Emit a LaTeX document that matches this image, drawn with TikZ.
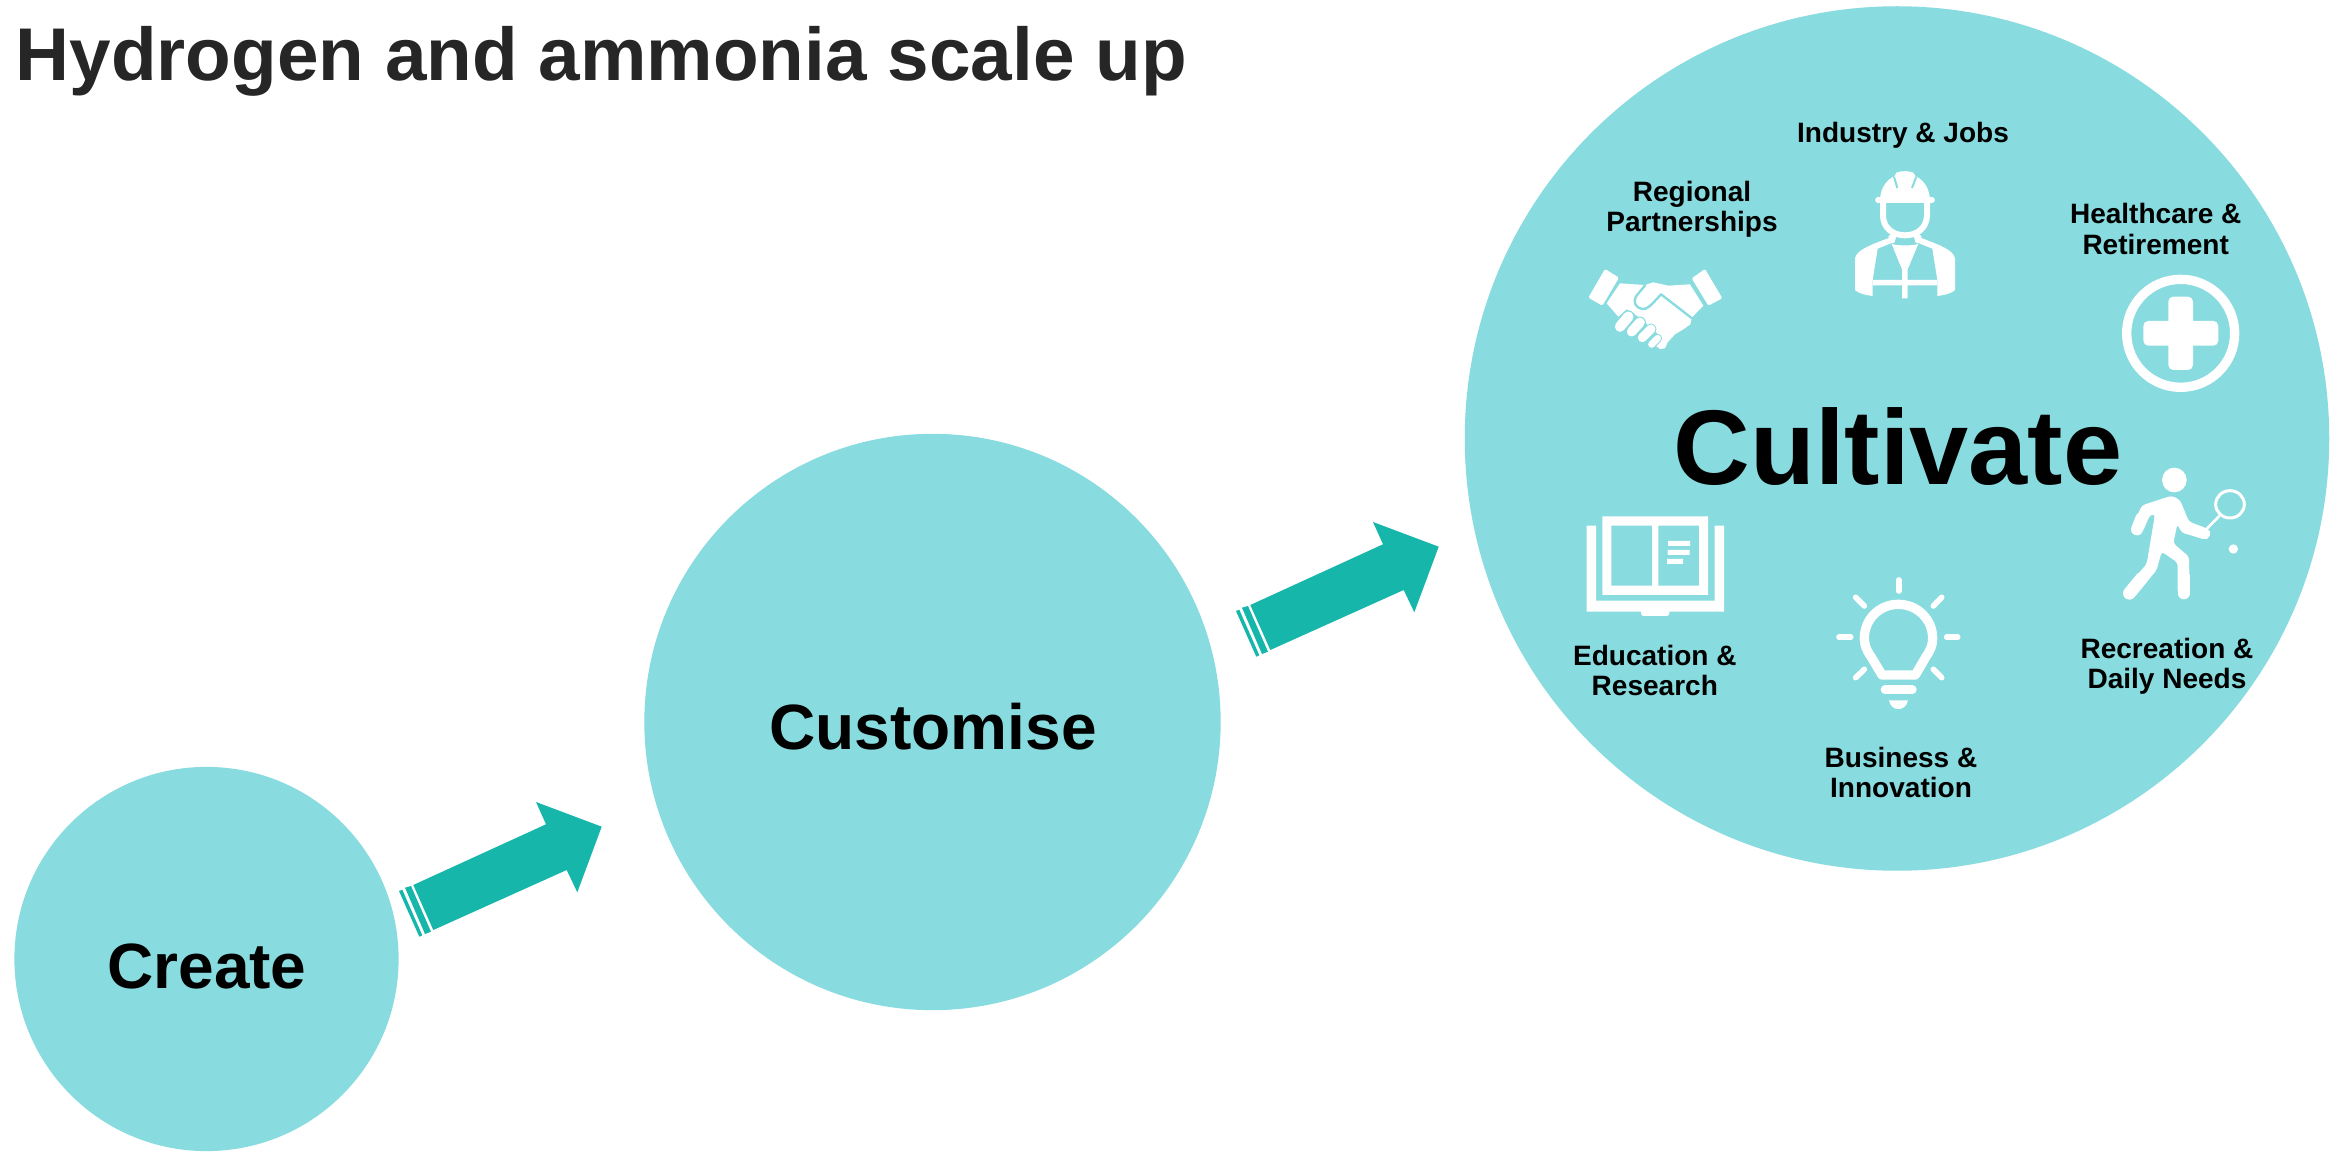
\documentclass[tikz,border=0pt]{standalone}
\usepackage{fontspec}
\setmainfont{Liberation Sans}
\definecolor{blob}{HTML}{88DBDF}
\definecolor{arrowteal}{HTML}{17B6AA}
\definecolor{titleink}{HTML}{262626}
\tikzset{
  x=0.01cm,y=-0.01cm,
  blobnode/.style={circle,fill=blob,inner sep=0pt,outer sep=0pt},
  txt/.style={inner sep=0pt,outer sep=0pt,text=black,font=\bfseries\fontsize{7.97}{8.54}\selectfont,align=center},
  stagetxt/.style={inner sep=0pt,outer sep=0pt,text=black,anchor=base,font=\bfseries\fontsize{18.2}{20}\selectfont},
  ink/.style={fill=white,draw=none},
  wl/.style={draw=white,line width=#1*0.0948pt,line cap=round,line join=round},
  wb/.style={draw=white,line width=#1*0.0948pt,line cap=butt,line join=round},
  tl/.style={draw=blob,line width=#1*0.0948pt,line cap=butt,line join=round},
  tr/.style={draw=blob,line width=#1*0.0948pt,line cap=round,line join=round},
  blockarrow/.pic={
    \fill[arrowteal] (413.3,885) -- (546,824.3) -- (536,802) -- (601.7,826.7) -- (577.3,892.3) -- (566.7,870) -- (433.3,930) -- cycle;
    \fill[arrowteal] (405,887.7) -- (411,886) -- (431,931.7) -- (425,934) -- cycle;
    \fill[arrowteal] (399,891) -- (402.3,889.7) -- (422.3,935.3) -- (419.3,936.7) -- cycle;
  }
}
\begin{document}
\begin{tikzpicture}
\path[use as bounding box,fill=white] (0,0) rectangle (2338,1152);
% circles
\node[blobnode,minimum size=3.84cm] (create) at (206.5,959) {};
\node[blobnode,minimum size=5.76cm] (customise) at (932.5,722) {};
\node[blobnode,minimum size=8.64cm] (cultivate) at (1897,438.5) {};
% title
\node[inner sep=0pt,anchor=base west,text=titleink,font=\bfseries\fontsize{21.25}{24}\selectfont] (title) at (15,80.5) {Hydrogen and ammonia scale up};
% stage labels
\node[stagetxt] (createlabel) at (207,988.5) {Create};
\node[stagetxt] (customiselabel) at (933,750) {Customise};
\node[stagetxt,font=\bfseries\fontsize{30.2}{34}\selectfont] (cultivatelabel) at (1898,484.5) {Cultivate};
% arrows
\pic (arrowone) at (0,0) {blockarrow};
\pic (arrowtwo) at (837,-280) {blockarrow};
% item labels
\node[txt] (industry) at (1903,135) {Industry \& Jobs};
\node[txt] (regional) at (1692,209) {Regional\\Partnerships};
\node[txt] (health) at (2155.7,229) {Healthcare \&\\Retirement};
\node[txt] (education) at (1654.8,670) {Education \&\\Research};
\node[txt] (recreation) at (2167,666) {Recreation \&\\Daily Needs};
\node[txt] (business) at (1901,772.5) {Business \&\\Innovation};
% worker
\begin{scope}[shift={(1540,130)},scale=1/3]
  \fill[ink] (1020,205) .. controls (1024,170) and (1040,150) .. (1064,138) -- (1069,128) .. controls (1085,122) and (1105,122) .. (1120,128) -- (1126,138) .. controls (1150,150) and (1166,170) .. (1170,205) -- cycle;
  \draw[tl=6] (1062,140) -- (1072,174);
  \draw[tl=6] (1129,140) -- (1116,174);
  \draw[wl=17] (1014,210.5) -- (1176,210.5);
  \draw[wb=18] (1029,215) -- (1029,255) .. controls (1029,295) and (1060,316) .. (1095,316) .. controls (1130,316) and (1161,295) .. (1161,255) -- (1161,215);
  \fill[ink] (1045,320) -- (1058,306) -- (1068,322) -- (1064,337) -- (1056,340) -- cycle;
  \fill[ink] (1145,320) -- (1132,306) -- (1122,322) -- (1126,337) -- (1134,340) -- cycle;
  \fill[ink] (945,385) .. controls (950,360) and (990,345) .. (1052,322) -- (1058,338) -- (1013,356) -- (998,450) -- (998,498) .. controls (975,495) and (955,490) .. (945,480) -- cycle;
  \fill[ink] (1245,385) .. controls (1240,360) and (1200,345) .. (1138,322) -- (1132,338) -- (1177,356) -- (1192,450) -- (1192,498) .. controls (1215,495) and (1235,490) .. (1245,480) -- cycle;
  \fill[ink] (1055,342) .. controls (1080,348) and (1110,348) .. (1135,342) -- (1103,418) -- (1103,450) -- (1192,450) -- (1192,466) -- (1103,466) -- (1103,505) -- (1086,505) -- (1086,466) -- (998,466) -- (998,450) -- (1086,450) -- (1086,418) -- cycle;
\end{scope}
% handshake
\begin{scope}[shift={(1585,265)},scale=1/3]
  \fill[ink,rounded corners=0.4pt] (60,12) -- (102,38) -- (52,122) -- (10,98) -- cycle;
  \fill[ink,rounded corners=0.4pt] (360,12) -- (412,100) -- (370,122) -- (320,40) -- cycle;
  \fill[ink] (105,55) -- (180,60) -- (205,52) -- (250,62) -- (315,58) -- (355,122) -- (320,158) -- (316,178) -- (295,193) -- (270,208) -- (248,232) -- (240,250) -- (225,252) -- (213,243) -- (222,228) -- (222,212) -- (208,195) -- (190,182) -- (178,168) -- (155,152) -- (140,140) -- (125,133) -- (100,155) -- (65,115) -- cycle;
  \draw[tr=37] (105,185) -- (130,155);
  \draw[tr=35] (140,200) -- (165,172);
  \draw[tr=33] (172,218) -- (198,192);
  \draw[tr=27] (200,238) -- (218,220);
  \draw[wl=31] (105,185) -- (130,155);
  \draw[wl=29] (140,200) -- (165,172);
  \draw[wl=27] (172,218) -- (198,192);
  \draw[wl=21] (200,238) -- (218,220);
  \draw[tl=7] (181,60) -- (153,94) .. controls (143,110) and (152,130) .. (172,132) .. controls (185,133) and (192,128) .. (228,88) -- (321,160);
\end{scope}
% healthcare
\begin{scope}[shift={(2020,170)},scale=1/3]
  \draw[wl=28] (482,490) circle [radius=162];
  \fill[ink,rounded corners=1.4pt] (445,380) rectangle (519,600);
  \fill[ink,rounded corners=1.4pt] (370,453) rectangle (595,527);
\end{scope}
% book + bulb
\begin{scope}[shift={(1540,490)},scale=1/3]
  \fill[ink,even odd rule] (187,79) rectangle (504,315) (214,107) rectangle (336,287) (355,107) rectangle (477,287);
  \fill[ink] (140,107) -- (168,107) -- (168,332) -- (524,332) -- (524,107) -- (552,107) -- (552,365) -- (140,365) -- cycle;
  \fill[ink,rounded corners=0.7pt] (303,345) rectangle (388,378);
  \fill[ink] (384,153) rectangle (450,168) (383,180) rectangle (449,195) (381,207) rectangle (429,222);
  \draw[wb=28] (1026,555) -- (1126,555) -- (1158,500) .. controls (1172,480) and (1178,465) .. (1178,445) .. controls (1178,388) and (1132,343) .. (1075,343) .. controls (1018,343) and (973,388) .. (973,445) .. controls (973,465) and (979,480) .. (993,500) -- cycle;
  \draw[wl=17] (1076,270) -- (1076,303);
  \draw[wl=17] (947,322) -- (973,348);
  \draw[wl=17] (1205,322) -- (1180,348);
  \draw[wl=17] (897,442) -- (932,442);
  \draw[wl=17] (1220,442) -- (1253,442);
  \draw[wl=17] (947,563) -- (973,538);
  \draw[wl=17] (1205,563) -- (1180,538);
  \draw[wl=26] (1035,599) -- (1117,599);
  \fill[ink] (1047,631) -- (1104,631) .. controls (1100,650) and (1088,657) .. (1075,657) .. controls (1062,657) and (1051,650) .. (1047,631) -- cycle;
\end{scope}
% tennis player
\begin{scope}[shift={(2040,440)},scale=1/3]
  \fill[ink] (403,120) circle [radius=37];
  \fill[ink,rounded corners=0.9pt] (306,196) -- (395,167) -- (420,180) -- (447,245) -- (497,264) -- (495,298) -- (425,278) -- (412,252) -- (400,310) -- (447,350) -- (449,460) -- (413,460) -- (413,368) -- (365,335) -- (350,390) -- (282,472) -- (254,448) -- (320,372) -- (345,222) -- (330,225) -- (308,275) -- (275,262) -- cycle;
  \draw[wl=36] (304,235) -- (291,268);
  \draw[wl=34] (445,264) -- (494,281);
  \draw[wl=36] (431,410) -- (431,460);
  \draw[wl=38] (305,415) -- (268,460);
  \draw[wl=9] (570,193) ellipse [x radius=43,y radius=41];
  \draw[wb=8] (495,272) -- (538,228);
  \fill[ink] (580,327) circle [radius=14];
\end{scope}
\end{tikzpicture}
\end{document}
